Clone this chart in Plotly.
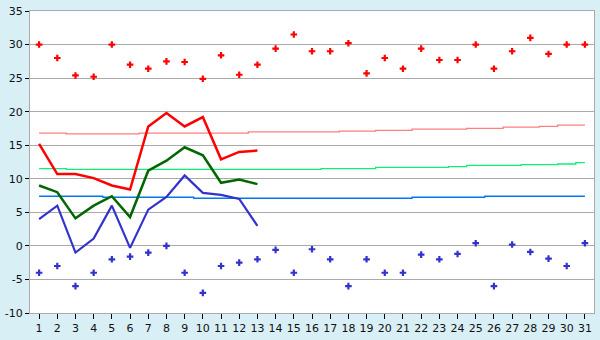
import plotly.graph_objects as go

days = list(range(1, 32))
max_temp = [30.0, 28.0, 25.4, 25.2, 30.0, 27.0, 26.4, 27.5, 27.4, 24.9,
            28.4, 25.5, 27.0, 29.4, 31.5, 29.0, 29.0, 30.2, 25.7, 28.0,
            26.4, 29.4, 27.7, 27.7, 30.0, 26.4, 29.0, 31.0, 28.6, 30.0, 30.0]
min_temp = [-4.0, -3.0, -6.0, -4.0, -2.0, -1.6, -1.0, 0.0, -4.0, -7.0,
            -3.0, -2.5, -2.0, -0.6, -4.0, -0.5, -2.0, -6.0, -2.0, -4.0,
            -4.0, -1.3, -2.0, -1.2, 0.4, -6.0, 0.2, -0.9, -1.9, -3.0, 0.4]
line_days = list(range(1, 14))
max_line = [15.2, 10.7, 10.7, 10.1, 9.0, 8.4, 17.8, 19.8, 17.8, 19.2, 12.9, 14.0, 14.2]
avg_line = [9.0, 8.0, 4.1, 6.0, 7.4, 4.3, 11.2, 12.7, 14.7, 13.5, 9.4, 9.9, 9.2]
min_line = [4.0, 6.0, -1.0, 1.1, 6.0, -0.3, 5.4, 7.3, 10.5, 7.9, 7.6, 7.0, 3.0]
norm_max = [16.8, 16.8, 16.7, 16.7, 16.7, 16.7, 16.8, 16.8, 16.8, 16.8,
            16.8, 16.8, 17.0, 17.0, 17.0, 17.0, 17.0, 17.1, 17.1, 17.2,
            17.2, 17.4, 17.4, 17.4, 17.5, 17.5, 17.7, 17.7, 17.8, 18.0, 18.0]
norm_avg = [11.5, 11.5, 11.4, 11.4, 11.4, 11.4, 11.4, 11.4, 11.4, 11.4,
            11.4, 11.4, 11.4, 11.4, 11.4, 11.4, 11.5, 11.5, 11.5, 11.7,
            11.7, 11.7, 11.7, 11.8, 12.0, 12.0, 12.0, 12.1, 12.1, 12.2, 12.4]
norm_min = [7.4, 7.4, 7.4, 7.4, 7.25, 7.25, 7.25, 7.25, 7.25, 7.1,
            7.1, 7.1, 7.1, 7.1, 7.1, 7.1, 7.1, 7.1, 7.1, 7.1,
            7.1, 7.25, 7.25, 7.25, 7.25, 7.4, 7.4, 7.4, 7.4, 7.4, 7.4]
y_ticks = [-10, -5, 0, 5, 10, 15, 20, 25, 30, 35]

fig = go.Figure()
fig.add_trace(go.Scatter(x=days, y=norm_max, mode="lines", line=dict(color="#ff7f7f", width=1.3, shape="hvh")))
fig.add_trace(go.Scatter(x=days, y=norm_avg, mode="lines", line=dict(color="#11ee77", width=1.3, shape="hvh")))
fig.add_trace(go.Scatter(x=days, y=norm_min, mode="lines", line=dict(color="#0077ee", width=1.3, shape="hvh")))
fig.add_trace(go.Scatter(x=line_days, y=max_line, mode="lines", line=dict(color="#ff0000", width=2.5)))
fig.add_trace(go.Scatter(x=line_days, y=avg_line, mode="lines", line=dict(color="#006600", width=2.5)))
fig.add_trace(go.Scatter(x=line_days, y=min_line, mode="lines", line=dict(color="#3333cc", width=2.2)))
fig.add_trace(go.Scatter(x=days, y=max_temp, mode="markers",
                         marker=dict(symbol="cross", size=5.5, color="#ff0000", line=dict(width=0))))
fig.add_trace(go.Scatter(x=days, y=min_temp, mode="markers",
                         marker=dict(symbol="cross", size=5.5, color="#3333cc", line=dict(width=0))))

fig.update_layout(
    width=600, height=340,
    margin=dict(l=26, r=5, t=5, b=20),
    paper_bgcolor="#d9eff6",
    plot_bgcolor="#ffffff",
    showlegend=False,
    font=dict(family="DejaVu Sans", size=11, color="#111111"),
)
fig.update_xaxes(range=[0.5, 31.5], tickmode="array", tickvals=days, ticktext=[str(d) for d in days],
                 showgrid=False, zeroline=False, ticks="outside", ticklen=5, tickcolor="#000000",
                 showline=True, linecolor="#aaaaaa", linewidth=1, mirror=True, fixedrange=True,
                 ticklabeloverflow="allow")
fig.update_yaxes(range=[-10, 35.001], tickmode="array", tickvals=y_ticks, ticktext=[str(v) for v in y_ticks],
                 showgrid=True, gridcolor="#aaaaaa", gridwidth=1, zeroline=False,
                 ticks="outside", ticklen=4, tickcolor="#000000",
                 showline=True, linecolor="#aaaaaa", linewidth=1, mirror=True, fixedrange=True,
                 ticklabeloverflow="allow")

fig.write_html("out.html", config={"displayModeBar": False})
